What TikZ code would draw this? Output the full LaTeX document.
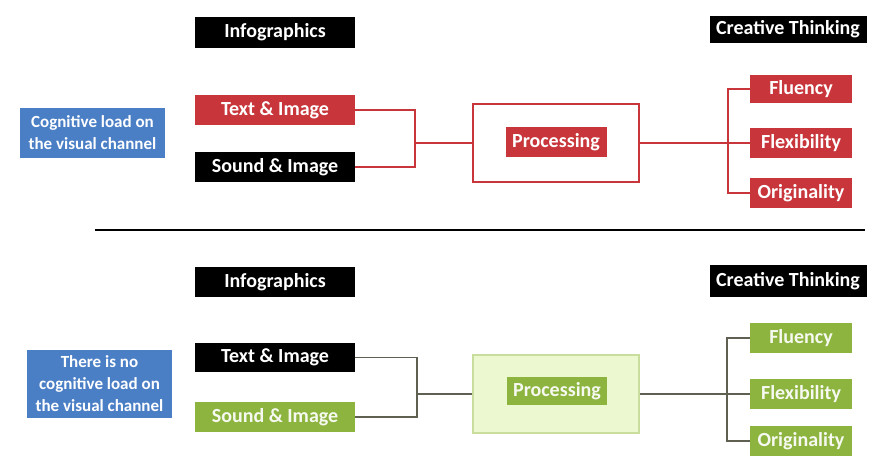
\documentclass[tikz,border=0pt]{standalone}
\usepackage{fontspec}
\setmainfont{Carlito}
\definecolor{rojo}{HTML}{C8363B}
\definecolor{azul}{HTML}{4A7FC6}
\definecolor{verde}{HTML}{8DB43F}
\definecolor{verdeclaro}{HTML}{ECF8CF}
\definecolor{verdeborde}{HTML}{C9DE9C}
\definecolor{gris}{HTML}{5F6052}
\tikzset{
  caja/.style={rectangle, inner sep=0pt, text=white, font=\fontsize{20}{23}\selectfont\bfseries},
  negra/.style={caja, fill=black},
  roja/.style={caja, fill=rojo},
  verdecaja/.style={caja, fill=verde, text=white!92!verde},
  azulcaja/.style={caja, fill=azul, align=center, font=\fontsize{17}{22}\selectfont\bfseries},
  linearoja/.style={draw=rojo, line width=1.3pt},
  lineagris/.style={draw=gris, line width=1.5pt}
}
\begin{document}
\begin{tikzpicture}[x=1pt,y=-1pt] %Infografías y pensamiento creativo
            \useasboundingbox (0,0) rectangle (869,455);

            % parte de arriba
            \node[negra, minimum width=160pt, minimum height=31pt] (info1) at (275,32.5) {Infographics};
            \node[negra, minimum width=157pt, minimum height=27pt] (ct1) at (788,29.5) {Creative Thinking};
            \node[azulcaja, minimum width=145pt, minimum height=50pt] (azul1) at (92.5,133) {Cognitive load on\\the visual channel};
            \node[roja, minimum width=160pt, minimum height=30pt] (ti1) at (275,110) {Text \& Image};
            \node[negra, minimum width=160pt, minimum height=30pt] (si1) at (275,167) {Sound \& Image};
            \node[draw=rojo, line width=1.5pt, fill=white, minimum width=166pt, minimum height=78pt] (pbox1) at (556,143) {};
            \node[roja, minimum width=101pt, minimum height=30pt] (proc1) at (556,142) {Processing};
            \node[roja, minimum width=102pt, minimum height=28pt] (flu1) at (801,89) {Fluency};
            \node[roja, minimum width=102pt, minimum height=30pt] (fle1) at (801,143) {Flexibility};
            \node[roja, minimum width=102pt, minimum height=30pt] (ori1) at (801,193) {Originality};

            \coordinate (jl1) at (415,143);
            \coordinate (jr1) at (728,143);

            \draw[linearoja] (ti1.east) -| (jl1);
            \draw[linearoja] (si1.east) -| (jl1);
            \draw[linearoja] (jl1) -- (pbox1.west);
            \draw[linearoja] (pbox1.east) -- (jr1);
            \draw[linearoja] (jr1) |- (flu1.west);
            \draw[linearoja] (jr1) -- (fle1.west);
            \draw[linearoja] (jr1) |- (ori1.west);

            % separación
            \coordinate (d1) at (95,230);
            \coordinate (d2) at (865,230);
            \draw[line width=1.6pt] (d1) -- (d2);

            % parte de abajo
            \node[negra, minimum width=160pt, minimum height=30pt] (info2) at (275,282) {Infographics};
            \node[negra, minimum width=157pt, minimum height=32pt] (ct2) at (788,281) {Creative Thinking};
            \node[azulcaja, minimum width=145pt, minimum height=68pt] (azul2) at (99.5,384) {There is no\\cognitive load on\\the visual channel};
            \node[negra, minimum width=160pt, minimum height=29pt] (ti2) at (275,357.5) {Text \& Image};
            \node[verdecaja, minimum width=160pt, minimum height=30pt] (si2) at (275,417) {Sound \& Image};
            \node[draw=verdeborde, line width=1.5pt, fill=verdeclaro, minimum width=166pt, minimum height=78pt] (pbox2) at (556,394) {};
            \node[verdecaja, minimum width=100pt, minimum height=28pt] (proc2) at (557,391) {Processing};
            \node[verdecaja, minimum width=102pt, minimum height=30pt] (flu2) at (801,338) {Fluency};
            \node[verdecaja, minimum width=102pt, minimum height=30pt] (fle2) at (801,394) {Flexibility};
            \node[verdecaja, minimum width=102pt, minimum height=30pt] (ori2) at (801,441) {Originality};

            \coordinate (jl2) at (417,394);
            \coordinate (jr2) at (727,394);

            \draw[lineagris] (ti2.east) -| (jl2);
            \draw[lineagris] (si2.east) -| (jl2);
            \draw[lineagris] (jl2) -- (pbox2.west);
            \draw[lineagris] (pbox2.east) -- (jr2);
            \draw[lineagris] (jr2) |- (flu2.west);
            \draw[lineagris] (jr2) -- (fle2.west);
            \draw[lineagris] (jr2) |- (ori2.west);
        \end{tikzpicture}
\end{document}
